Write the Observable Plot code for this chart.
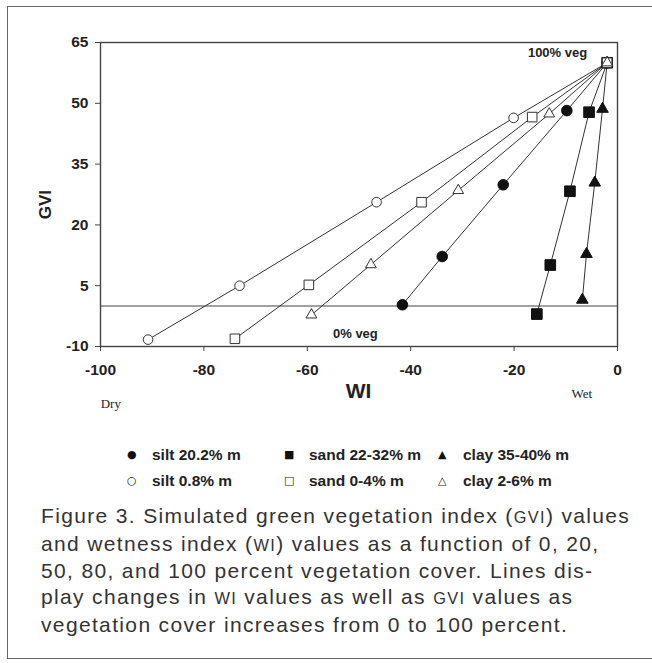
<!DOCTYPE html>
<html>
<head>
<meta charset="utf-8">
<script src="https://cdn.jsdelivr.net/npm/d3@7"></script>
<script src="https://cdn.jsdelivr.net/npm/@observablehq/plot@0.6"></script>
<style>
  html, body { margin:0; padding:0; background:#fff; }
  body { width:652px; height:663px; overflow:hidden; position:relative; }
  #frame { position:absolute; left:7px; top:6px; width:700px; height:653px; border:1.5px solid #666; border-right:none; box-sizing:border-box; }
  #chart { position:absolute; left:0; top:0; }
  .leg { position:absolute; font-family:"Liberation Sans",sans-serif; font-weight:bold; font-size:15.5px; color:#222; white-space:nowrap; line-height:16px; }
  .sym { position:absolute; font-family:"DejaVu Sans",sans-serif; color:#111; font-size:11px; line-height:16px; }
  #caption { position:absolute; left:41px; top:503px; font-family:"Liberation Sans",sans-serif; font-size:21px; letter-spacing:1.35px; line-height:25.7px; color:#333; white-space:nowrap; }
  .sc { font-size:0.78em; }
</style>
</head>
<body>
<div id="frame"></div>
<div id="chart"></div>
<div id="legend"></div>
<div id="caption">Figure 3. Simulated green vegetation index (<span class="sc">GVI</span>) values<br>and wetness index (<span class="sc">WI</span>) values as a function of 0, 20,<br>50, 80, and 100 percent vegetation cover. Lines dis-<br>play changes in <span class="sc">WI</span> values as well as <span class="sc">GVI</span> values as<br>vegetation cover increases from 0 to 100 percent.</div>
<script>
// ---- data ----
const seriesNames = ["silt 20.2% m", "sand 22-32% m", "clay 35-40% m", "silt 0.8% m", "sand 0-4% m", "clay 2-6% m"];
const vegLevels = [0, 20, 50, 80, 100];
const wiSilt202  = [-41.6, -33.9, -22.1, -9.8, -2];
const gviSilt202 = [0.3, 12.2, 29.9, 48.2, 60];
const wiSand2232  = [-15.6, -13.0, -9.2, -5.5, -2];
const gviSand2232 = [-2.0, 10.1, 28.3, 47.8, 60];
const wiClay3540  = [-6.8, -6.0, -4.4, -2.9, -2];
const gviClay3540 = [1.5, 12.8, 30.4, 48.6, 60];
const wiSilt08  = [-90.8, -73.1, -46.6, -20.1, -2];
const gviSilt08 = [-8.3, 5.0, 25.6, 46.4, 60];
const wiSand04  = [-74.0, -59.7, -37.9, -16.5, -2];
const gviSand04 = [-8.1, 5.2, 25.6, 46.6, 60];
const wiClay26  = [-59.2, -47.7, -30.8, -13.2, -2];
const gviClay26 = [-2.2, 10.2, 28.5, 47.4, 60];
const xTicks = [-100, -80, -60, -40, -20, 0];
const yTicks = [65, 50, 35, 20, 5, -10];
const vegLabels = ["100% veg", "0% veg"];

const wiAll = [wiSilt202, wiSand2232, wiClay3540, wiSilt08, wiSand04, wiClay26];
const gviAll = [gviSilt202, gviSand2232, gviClay3540, gviSilt08, gviSand04, gviClay26];
const rows = [];
seriesNames.forEach((s, i) => vegLevels.forEach((v, j) => rows.push({series: s, veg: v, wi: wiAll[i][j], gvi: gviAll[i][j]})));

const symbolOf = {"silt 20.2% m":"circle","sand 22-32% m":"square","clay 35-40% m":"triangle","silt 0.8% m":"circle","sand 0-4% m":"square","clay 2-6% m":"triangle"};
const filled = {"silt 20.2% m":true,"sand 22-32% m":true,"clay 35-40% m":true,"silt 0.8% m":false,"sand 0-4% m":false,"clay 2-6% m":false};
const rOf = {"silt 20.2% m":5.3,"sand 22-32% m":6.0,"clay 35-40% m":4.3,"silt 0.8% m":4.8,"sand 0-4% m":5.4,"clay 2-6% m":4.0};

const dotMarks = seriesNames.map(s => Plot.dot(rows.filter(d => d.series === s), {
  x: "wi", y: "gvi", symbol: () => symbolOf[s], r: rOf[s],
  fill: filled[s] ? "#111" : "#fff", stroke: filled[s] ? "#111" : "#333", strokeWidth: 1
}));

const font = "Liberation Sans, Arial, sans-serif";

const chart = Plot.plot({
  width: 652, height: 420,
  marginLeft: 100, marginRight: 35, marginTop: 42, marginBottom: 74,
  style: {fontFamily: font, fontSize: "15px", fontWeight: "bold", color: "#222", background: "transparent", overflow: "visible"},
  x: {domain: [-100, 0]},
  y: {domain: [-10, 65]},
  symbol: {type: "identity"},
  marks: [
    Plot.frame({stroke: "#444", strokeWidth: 1.4}),
    Plot.ruleY([0], {stroke: "#444", strokeWidth: 1.1}),
    Plot.line(rows, {x: "wi", y: "gvi", z: "series", stroke: "#333", strokeWidth: 1}),
    ...dotMarks,
    Plot.axisX({ticks: xTicks, tickSize: 5, tickPadding: 12, tickFormat: d => String(d), label: null, stroke: "#444", fontSize: 15.5}),
    Plot.axisY({ticks: yTicks, tickSize: 5, tickPadding: 7, tickFormat: d => String(d), label: null, stroke: "#444", fontSize: 15.5}),
    Plot.text([vegLabels[0]], {x: -11.6, y: 62.4, text: d => d, fontSize: 13, fontWeight: "bold", fill: "#222"}),
    Plot.text([vegLabels[1]], {x: -50.7, y: -6.9, text: d => d, fontSize: 13, fontWeight: "bold", fill: "#222"}),
    Plot.text(["GVI"], {x: -100, y: 25, dx: -55, text: d => d, rotate: -90, fontSize: 17, fontWeight: "bold", fill: "#222"}),
    Plot.text(["WI"], {x: -50.1, y: -10, dy: 45, text: d => d, fontSize: 21, fontWeight: "bold", fill: "#222"}),
    Plot.text(["Dry"], {x: -98, y: -10, dy: 57, text: d => d, fontSize: 13, fontWeight: "normal", fontFamily: "Liberation Serif, serif", fill: "#222"}),
    Plot.text(["Wet"], {x: -6.9, y: -10, dy: 47, text: d => d, fontSize: 13, fontWeight: "normal", fontFamily: "Liberation Serif, serif", fill: "#222"})
  ]
});
document.getElementById("chart").appendChild(chart);

// ---- legend ----
const legendSyms = ["\u25CF", "\u25A0", "\u25B2", "\u25CB", "\u25A1", "\u25B3"];
const colX = [130, 287, 441];
const rowY = [447, 473];
const leg = document.getElementById("legend");
seriesNames.forEach((s, i) => {
  const c = i % 3, r = Math.floor(i / 3);
  const sym = document.createElement("div");
  sym.className = "sym";
  sym.style.left = (colX[c] - 3) + "px";
  sym.style.top = rowY[r] + "px";
  sym.textContent = legendSyms[i];
  leg.appendChild(sym);
  const t = document.createElement("div");
  t.className = "leg";
  t.style.left = (colX[c] + 22) + "px";
  t.style.top = rowY[r] + "px";
  t.textContent = s;
  leg.appendChild(t);
});
</script>
</body>
</html>
